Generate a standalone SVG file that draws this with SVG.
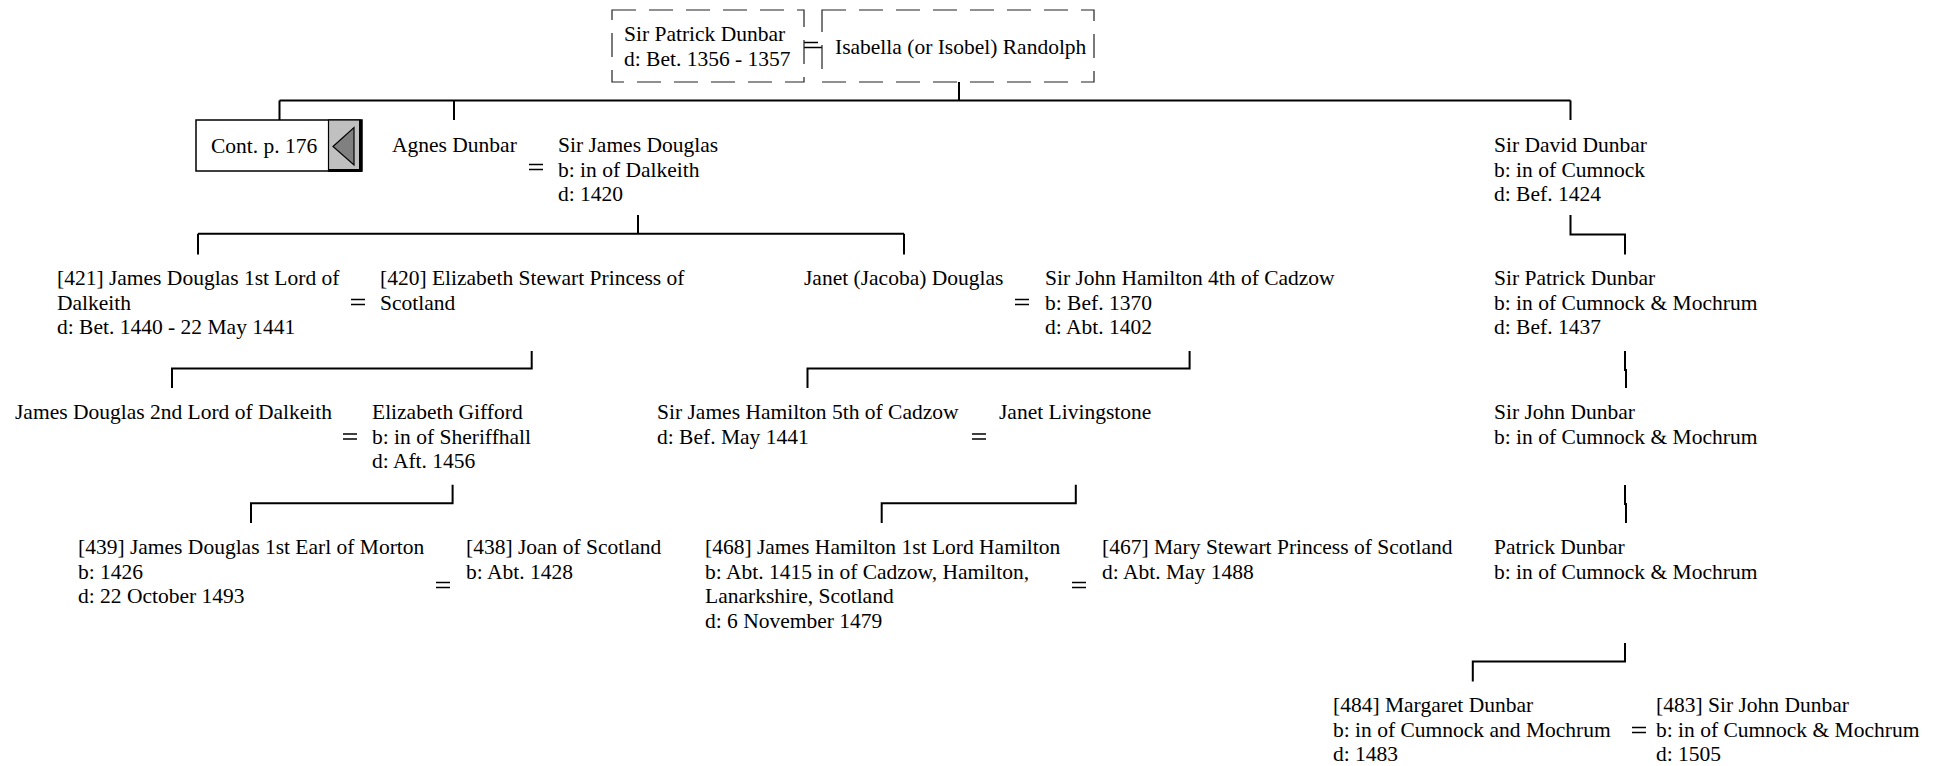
<svg xmlns="http://www.w3.org/2000/svg" width="1939" height="766" viewBox="0 0 1939 766">
<style>
.t{font-family:"Liberation Serif","Times New Roman",serif;font-size:21.5px;fill:#000}
.c{stroke:#000;stroke-width:2;fill:none}
.eq{stroke:#000;stroke-width:1.6;fill:none}
.dash{fill:#fff;stroke:#222;stroke-width:1.2;stroke-dasharray:24 13}
</style>
<rect width="1939" height="766" fill="#fff"/>
<g id="connectors">
<path class="c" d="M959,82V100.5M279.5,100.5H1570.5M279.5,100.5V120M454,100.5V120M1570.5,100.5V120"/>
<path class="c" d="M638,215V233.7M198,233.7H904M198,233.7V254.5M904,233.7V254.5"/>
<path class="c" d="M1570.5,215V234.5H1625V254.5"/>
<path class="c" d="M531.7,351V368.5H172V388"/>
<path class="c" d="M1189.6,351V368.5H807.5V388"/>
<path class="c" d="M1625,351V370H1626V388"/>
<path class="c" d="M452.6,484.7V503.3H251V523"/>
<path class="c" d="M1075.8,484.7V503.3H881.7V523"/>
<path class="c" d="M1625,485V504H1626V523"/>
<path class="c" d="M1625,643V661.6H1472.8V681.4"/>
<path class="eq" d="M804,42.5H818M804,47.5H822"/>
<path class="eq" d="M529,164.5h14M529,169.5h14"/>
<path class="eq" d="M351,299.5h14M351,304.5h14"/>
<path class="eq" d="M1015,299.5h14M1015,304.5h14"/>
<path class="eq" d="M343,434h14M343,439h14"/>
<path class="eq" d="M972,434h14M972,439h14"/>
<path class="eq" d="M436,582.5h14M436,587.5h14"/>
<path class="eq" d="M1072,582.5h14M1072,587.5h14"/>
<path class="eq" d="M1632,727.5h14M1632,732.5h14"/>
</g>
<g id="n-sir-patrick-top">
<rect class="dash" x="612" y="10" width="192" height="72"/>
<text class="t" x="624" y="41">Sir Patrick Dunbar<tspan x="624" dy="24.5">d: Bet. 1356 - 1357</tspan></text>
</g>
<g id="n-isabella">
<rect class="dash" x="822" y="10" width="272" height="72"/>
<text class="t" x="835" y="54">Isabella (or Isobel) Randolph</text>
</g>
<g id="n-cont">
<rect x="196" y="120" width="166" height="51" fill="#fff" stroke="#000" stroke-width="1.5"/>
<rect x="328.5" y="120" width="32" height="51" fill="#c0c0c0" stroke="#000" stroke-width="1.2"/>
<path d="M360.5,120V171.5M328.5,170.5H362" stroke="#000" stroke-width="3" fill="none"/>
<path d="M333,146.5L354,127.5V165Z" fill="#808080" stroke="#000" stroke-width="1.2"/>
<text class="t" x="211" y="153">Cont. p. 176</text>
</g>
<g id="n-agnes"><text class="t" x="392" y="152">Agnes Dunbar</text></g>
<g id="n-sir-james-douglas"><text class="t" x="558" y="152">Sir James Douglas<tspan x="558" dy="24.5">b: in of Dalkeith</tspan><tspan x="558" dy="24.5">d: 1420</tspan></text></g>
<g id="n-sir-david"><text class="t" x="1494" y="152">Sir David Dunbar<tspan x="1494" dy="24.5">b: in of Cumnock</tspan><tspan x="1494" dy="24.5">d: Bef. 1424</tspan></text></g>
<g id="n-421"><text class="t" x="57" y="285">[421] James Douglas 1st Lord of<tspan x="57" dy="24.5">Dalkeith</tspan><tspan x="57" dy="24.5">d: Bet. 1440 - 22 May 1441</tspan></text></g>
<g id="n-420"><text class="t" x="380" y="285">[420] Elizabeth Stewart Princess of<tspan x="380" dy="24.5">Scotland</tspan></text></g>
<g id="n-janet-jacoba"><text class="t" x="804" y="285">Janet (Jacoba) Douglas</text></g>
<g id="n-sir-john-hamilton"><text class="t" x="1045" y="285">Sir John Hamilton 4th of Cadzow<tspan x="1045" dy="24.5">b: Bef. 1370</tspan><tspan x="1045" dy="24.5">d: Abt. 1402</tspan></text></g>
<g id="n-sir-patrick"><text class="t" x="1494" y="285">Sir Patrick Dunbar<tspan x="1494" dy="24.5">b: in of Cumnock &amp; Mochrum</tspan><tspan x="1494" dy="24.5">d: Bef. 1437</tspan></text></g>
<g id="n-james-douglas-2"><text class="t" x="15" y="419">James Douglas 2nd Lord of Dalkeith</text></g>
<g id="n-elizabeth-gifford"><text class="t" x="372" y="419">Elizabeth Gifford<tspan x="372" dy="24.5">b: in of Sheriffhall</tspan><tspan x="372" dy="24.5">d: Aft. 1456</tspan></text></g>
<g id="n-sir-james-hamilton"><text class="t" x="657" y="419">Sir James Hamilton 5th of Cadzow<tspan x="657" dy="24.5">d: Bef. May 1441</tspan></text></g>
<g id="n-janet-livingstone"><text class="t" x="999" y="419">Janet Livingstone</text></g>
<g id="n-sir-john-dunbar"><text class="t" x="1494" y="419">Sir John Dunbar<tspan x="1494" dy="24.5">b: in of Cumnock &amp; Mochrum</tspan></text></g>
<g id="n-439"><text class="t" x="78" y="554">[439] James Douglas 1st Earl of Morton<tspan x="78" dy="24.5">b: 1426</tspan><tspan x="78" dy="24.5">d: 22 October 1493</tspan></text></g>
<g id="n-438"><text class="t" x="466" y="554">[438] Joan of Scotland<tspan x="466" dy="24.5">b: Abt. 1428</tspan></text></g>
<g id="n-468"><text class="t" x="705" y="554">[468] James Hamilton 1st Lord Hamilton<tspan x="705" dy="24.5">b: Abt. 1415 in of Cadzow, Hamilton,</tspan><tspan x="705" dy="24.5">Lanarkshire, Scotland</tspan><tspan x="705" dy="24.5">d: 6 November 1479</tspan></text></g>
<g id="n-467"><text class="t" x="1102" y="554">[467] Mary Stewart Princess of Scotland<tspan x="1102" dy="24.5">d: Abt. May 1488</tspan></text></g>
<g id="n-patrick-dunbar"><text class="t" x="1494" y="554">Patrick Dunbar<tspan x="1494" dy="24.5">b: in of Cumnock &amp; Mochrum</tspan></text></g>
<g id="n-484"><text class="t" x="1333" y="712">[484] Margaret Dunbar<tspan x="1333" dy="24.5">b: in of Cumnock and Mochrum</tspan><tspan x="1333" dy="24.5">d: 1483</tspan></text></g>
<g id="n-483"><text class="t" x="1656" y="712">[483] Sir John Dunbar<tspan x="1656" dy="24.5">b: in of Cumnock &amp; Mochrum</tspan><tspan x="1656" dy="24.5">d: 1505</tspan></text></g>
</svg>
